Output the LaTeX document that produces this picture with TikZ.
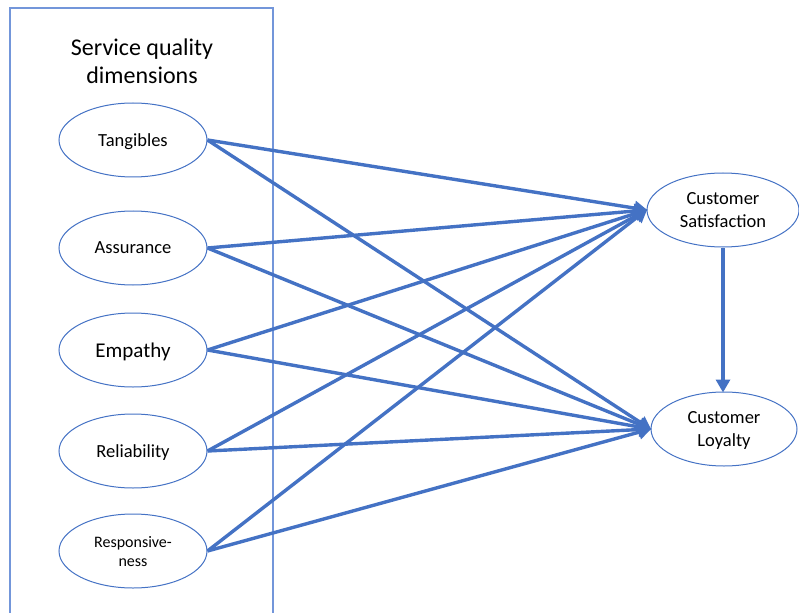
\documentclass[tikz,border=0pt]{standalone}
\usepackage{fontspec}
\setmainfont{Carlito}
\usetikzlibrary{shapes.geometric,arrows.meta}
\definecolor{linkblue}{HTML}{4472C4}
\definecolor{framblue}{HTML}{7396DA}
\tikzset{
  dim/.style={ellipse, draw=linkblue, line width=1pt, inner sep=0pt,
    minimum width=148pt, minimum height=74pt, align=center, text depth=0pt,
    font=\fontsize{18.5}{23}\selectfont},
  outcome/.style={dim},
  link/.style={draw=linkblue, line width=3.4pt,
    -{Triangle[length=13pt,width=14pt]}, shorten >=-1pt},
  frame/.style={draw=framblue, line width=1.2pt}
}
\begin{document}
\begin{tikzpicture}[x=1pt,y=-1pt]
  \useasboundingbox (0,0) rectangle (799,612);
  \clip (0,0) rectangle (799,612);
  % group frame
  \draw[frame] (10,8) rectangle (273,640);
  \node[align=center, font=\fontsize{24}{28}\selectfont] (title) at (142,61)
    {Service quality\\dimensions};
  % service quality dimensions
  \node[dim] (tan) at (133,140) {Tangibles};
  \node[dim] (ass) at (133,248) {Assurance};
  \node[dim, font=\fontsize{21}{25}\selectfont] (emp) at (133,350) {Empathy};
  \node[dim] (rel) at (133,451) {Reliability};
  \node[dim, font=\fontsize{16}{19}\selectfont] (res) at (133,551) {Responsive-\\ness};
  % outcomes
  \node[outcome, minimum width=152pt] (sat) at (723,210) {Customer\\Satisfaction};
  \node[outcome, minimum width=146pt] (loy) at (724,429) {Customer\\Loyalty};
  % paths
  \foreach \s in {tan,ass,emp,rel,res}{
    \draw[link] (\s.east) -- (sat.west);
    \draw[link] (\s.east) -- (loy.west);
  }
  \draw[link] (sat.south) -- (sat.south |- loy.north);
\end{tikzpicture}
\end{document}
